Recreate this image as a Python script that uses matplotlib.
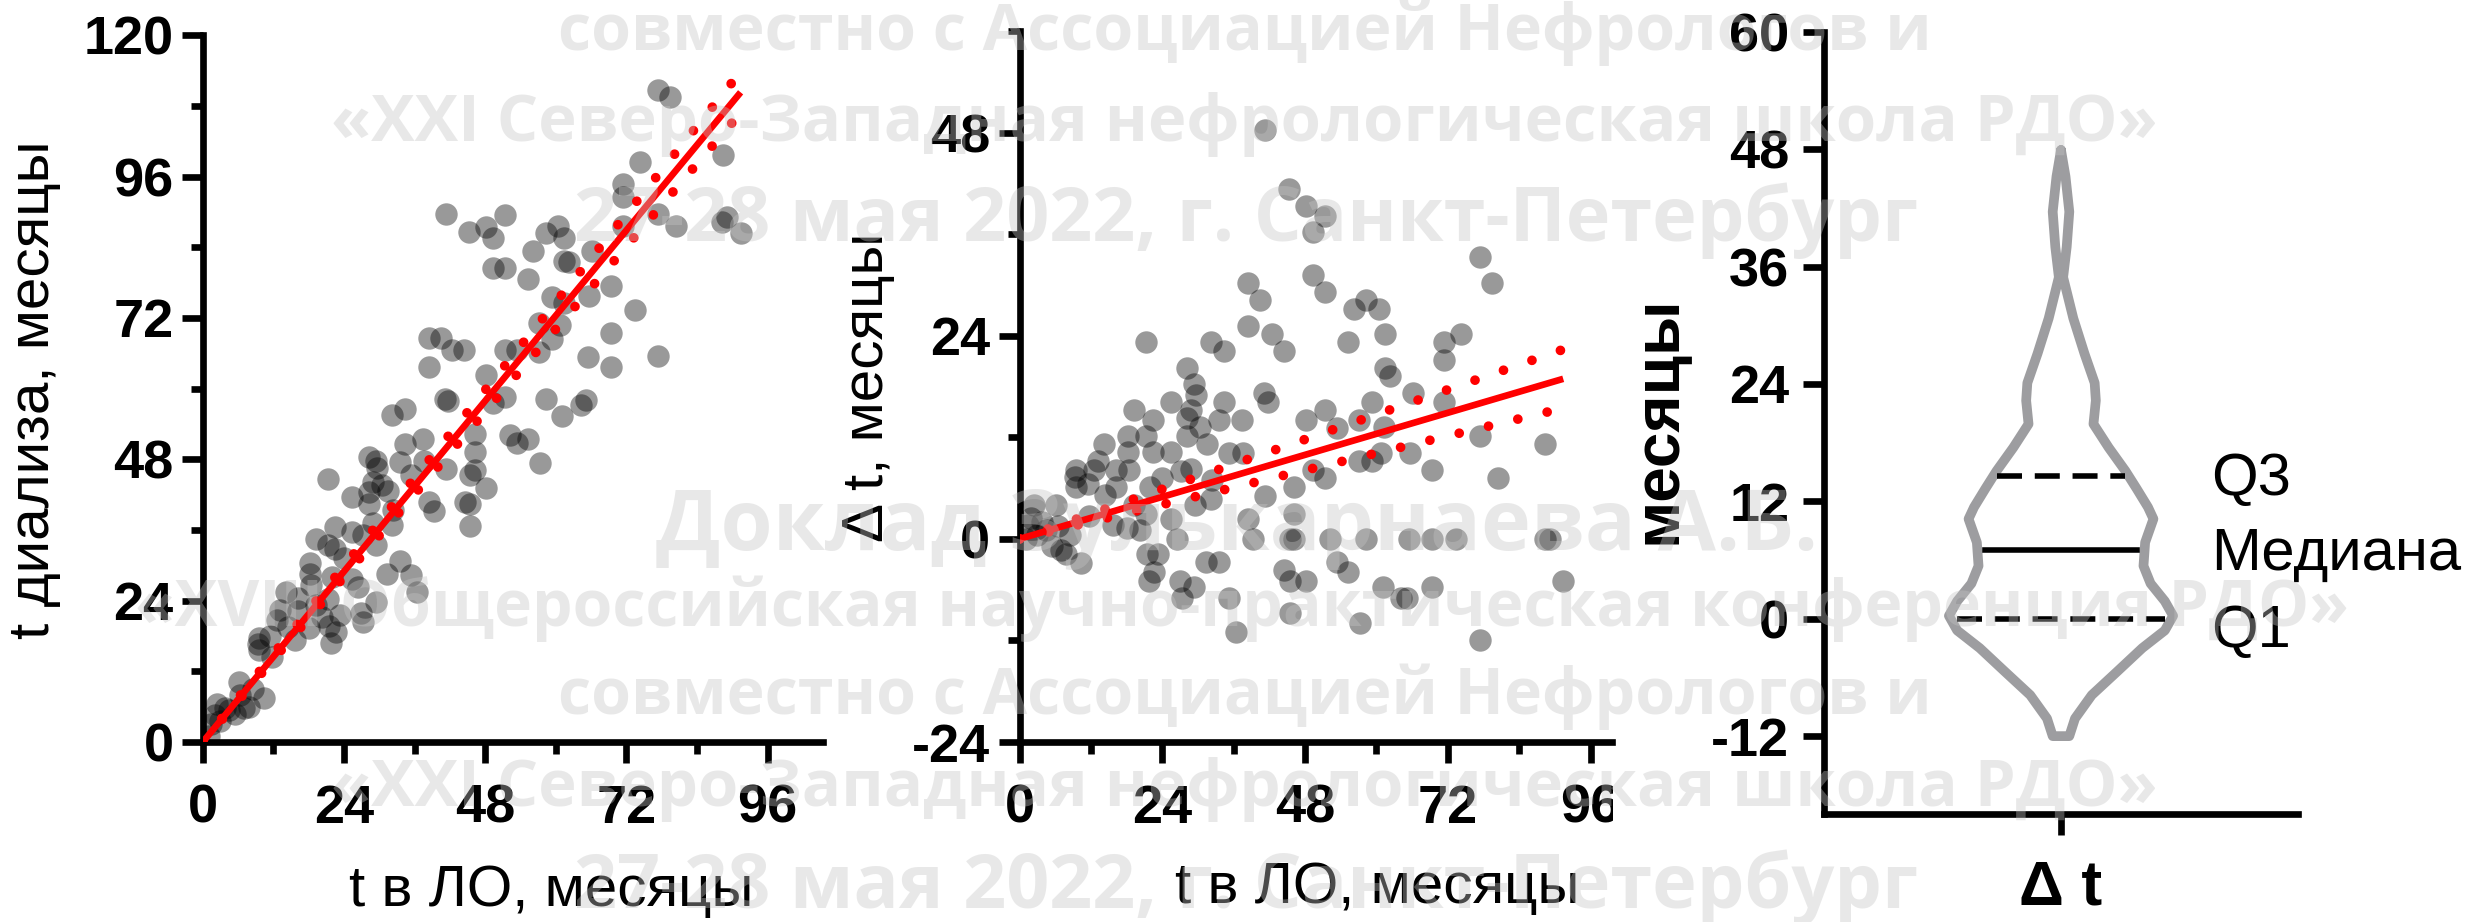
import numpy as np
import matplotlib
matplotlib.use("Agg")
import matplotlib.pyplot as plt
from matplotlib.ticker import MultipleLocator
from matplotlib.patches import Rectangle

plt.rcParams["font.family"] = ["Liberation Sans", "DejaVu Sans"]
plt.rcParams["axes.unicode_minus"] = False

# t в ЛО (months) and Δt = t диализа - t в ЛО (months)
t_lo = np.array([
    41.3, 45.3, 48.2, 51.3, 49.3, 77.4, 49.3, 79.4, 38.4, 51.3,
    40.4, 56.2, 58.3, 60.4, 38.4, 42.4, 21.3, 55.3, 61.4, 71.4,
    74.3, 44.4, 32.2, 34.4, 71.4, 28.2, 61.4, 62.2, 29.4, 41.1,
    41.7, 19.3, 25.4, 34.4, 28.9, 66.2, 71.4, 51.3, 59.3, 22.4,
    28.2, 33.5, 37.4, 48.2, 57.1, 53.4, 61.3, 77.4, 88.4, 14.2,
    18.2, 21.3, 30.4, 28.2, 31.5, 18.2, 22.4, 25.4, 35.3, 37.6,
    57.1, 59.3, 60.7, 65.6, 69.3, 9.5, 12.6, 16.2, 18.4, 49.3,
    51.3, 9.5, 11.5, 14.4, 16.2, 22.0, 24.0, 32.2, 41.3, 46.2,
    80.5, 2.4, 6.2, 19.3, 21.3, 25.4, 29.5, 38.4, 46.2, 1.4,
    3.7, 6.4, 11.7, 15.7, 18.0, 20.2, 1.1, 39.3, 45.4, 46.2,
    52.2, 58.3, 65.4, 69.4, 73.4, 88.3, 89.1, 26.4, 5.5, 7.0,
    10.4, 21.5, 23.3, 31.3, 33.5, 22.6, 21.8, 44.5, 45.4, 48.2,
    53.4, 55.3, 26.9, 29.4, 27.3, 61.1, 64.2, 65.1, 69.3, 91.4,
    35.3, 45.4, 57.3, 36.4, 77.4, 29.6, 32.4, 27.2, 3.0, 4.5,
    7.8, 8.5, 2.0, 9.3, 13.2, 28.9,
])
dt = np.array([
    48.3, 41.3, 39.3, 38.2, 36.3, 33.3, 31.2, 30.2, 30.2, 29.2,
    28.2, 27.2, 28.2, 27.2, 25.2, 24.2, 23.3, 23.3, 24.2, 23.3,
    24.2, 22.2, 23.3, 22.2, 21.2, 20.2, 20.2, 19.3, 18.3, 17.2,
    16.2, 15.2, 16.2, 16.2, 15.2, 17.2, 16.2, 15.2, 16.2, 14.1,
    14.3, 14.1, 14.1, 14.1, 14.1, 13.1, 13.2, 12.2, 11.2, 11.2,
    12.2, 12.2, 13.2, 12.2, 11.2, 10.3, 10.3, 10.3, 10.1, 10.1,
    9.2, 9.2, 10.1, 10.1, 8.2, 8.2, 8.2, 8.2, 8.2, 8.2,
    7.2, 6.1, 6.5, 5.2, 6.1, 6.1, 7.2, 4.7, 5.1, 6.1,
    7.2, 4.0, 4.0, 4.0, 3.0, 2.3, 4.0, 2.3, 3.0, 1.6,
    2.0, 1.5, 2.7, 1.6, 1.3, 1.1, 0.0, 0.0, 0.0, 0.0,
    0.0, 0.0, 0.0, 0.0, 0.0, 0.0, 0.0, 0.0, -0.8, -1.3,
    -2.9, -1.8, -1.8, -2.7, -2.7, -3.9, -5.0, -3.7, -5.0, -5.0,
    -2.7, -3.9, -5.0, -5.7, -7.0, -5.7, -7.0, -7.0, -5.7, -5.0,
    -7.0, -8.7, -9.9, -11.0, -11.9, 17.0, 7.0, 8.0, 0.5, 1.0,
    -1.8, 0.5, 2.5, 7.3, 9.2, 8.3,
])
t_dial = t_lo + dt

# linear fit through the origin (Δt vs t в ЛО) and 95% CI of its slope
fit_slope_dt = 0.207
fit_ci_dt = 0.038

# violin of Δt: outline half-widths
violin_y = [47.9, 45.2, 41.6, 38.0, 34.9, 30.7, 27.1, 24.1, 22.3, 19.9,
            17.5, 15.1, 13.3, 11.4, 10.2, 7.8, 5.4, 3.6, 1.8, 0.3,
            -1.2, -3.0, -5.4, -7.8, -10.2, -12.0]
violin_hw = [0.0, 0.019, 0.035, 0.024, 0.009, 0.052, 0.099, 0.142, 0.147, 0.137,
             0.201, 0.272, 0.319, 0.367, 0.390, 0.355, 0.348, 0.378, 0.438, 0.473,
             0.438, 0.343, 0.237, 0.130, 0.059, 0.035]
q_names = ["Q1", "Медиана", "Q3"]
q_values = [0.0, 7.0, 14.6]
q_hw = [0.437, 0.319, 0.272]
q_text_y = [-1.3, 6.6, 14.2]

watermark = [
    "совместно с Ассоциацией Нефрологов и",
    "«XXI Северо-Западная нефрологическая школа РДО»",
    "27-28 мая 2022, г. Санкт-Петербург",
    "Доклад Зулькарнаева А.Б.",
    "«XVIII Общероссийская научно-практическая конференция РДО»",
    "совместно с Ассоциацией Нефрологов и",
    "«XXI Северо-Западная нефрологическая школа РДО»",
    "27-28 мая 2022, г. Санкт-Петербург",
]
# left / right ends and baseline of each watermark line, pixels
wm_left = [558, 331, 574, 656, 135, 558, 331, 574]
wm_right = [1934, 2160, 1920, 1818, 2348, 1934, 2160, 1920]
wm_baseline = [50, 141, 241, 550, 626, 714, 806, 908]

W, H = 2479, 922
fig = plt.figure(figsize=(W / 100, H / 100), dpi=100)

LW = 4.8
TICK = 39
LABEL = 42


def style(ax):
    for s in ["top", "right"]:
        ax.spines[s].set_visible(False)
    for s in ["left", "bottom"]:
        ax.spines[s].set_linewidth(LW)
    ax.tick_params(which="major", length=15, width=LW)
    ax.tick_params(which="minor", length=8.5, width=LW)
    ax.tick_params(axis="x", pad=15)
    ax.tick_params(axis="y", pad=6)


def bold_ticks(ax):
    for lab in ax.get_xticklabels() + ax.get_yticklabels():
        lab.set_fontweight("bold")
        lab.set_fontsize(TICK)


# panel 1: t диализа vs t в ЛО
ax1 = fig.add_axes([202.8 / W, 1 - 742 / H, 620.2 / W, 706.7 / H])
style(ax1)
ax1.scatter(t_lo, t_dial, s=260, color="black", alpha=0.4, linewidths=0, zorder=2)
xl = np.array([0, t_lo.max()])
ax1.plot(xl, (1 + fit_slope_dt) * xl, color="red", lw=LW, zorder=3, solid_capstyle="butt")
for sgn in (-1, 1):
    ax1.plot(xl, (1 + fit_slope_dt + sgn * fit_ci_dt) * xl, color="red", lw=7,
             linestyle=(0, (0.001, 3.1)), dash_capstyle="round", zorder=3)
ax1.set_xlim(0, 105.4)
ax1.set_ylim(0, 120)
ax1.set_xticks([0, 24, 48, 72, 96])
ax1.set_yticks([0, 24, 48, 72, 96, 120])
ax1.xaxis.set_minor_locator(MultipleLocator(12))
ax1.yaxis.set_minor_locator(MultipleLocator(12))
bold_ticks(ax1)
ax1.set_xlabel("t в ЛО, месяцы", fontsize=LABEL)
ax1.xaxis.set_label_coords(0.561, -0.211)
ax1.xaxis.label.set_va("center")
ax1.set_ylabel("t диализа, месяцы", fontsize=LABEL)
ax1.yaxis.set_label_coords(-0.272, 0.498)
ax1.yaxis.label.set_va("center")

# panel 2: Δt vs t в ЛО
ax2 = fig.add_axes([1019.5 / W, 1 - 742 / H, 592.5 / W, 710.8 / H])
style(ax2)
ax2.scatter(t_lo, dt, s=260, color="black", alpha=0.4, linewidths=0, zorder=2)
ax2.plot(xl, fit_slope_dt * xl, color="red", lw=LW, zorder=3, solid_capstyle="butt")
for sgn in (-1, 1):
    ax2.plot(xl, (fit_slope_dt + sgn * fit_ci_dt) * xl, color="red", lw=7,
             linestyle=(0, (0.001, 3.1)), dash_capstyle="round", zorder=3)
ax2.set_xlim(0, 99.6)
ax2.set_ylim(-24, 60)
ax2.set_xticks([0, 24, 48, 72, 96])
ax2.set_yticks([-24, 0, 24, 48])
ax2.xaxis.set_minor_locator(MultipleLocator(12))
ax2.yaxis.set_minor_locator(MultipleLocator(12))
bold_ticks(ax2)
ax2.set_xlabel("t в ЛО, месяцы", fontsize=LABEL)
ax2.xaxis.set_label_coords(0.603, -0.205)
ax2.xaxis.label.set_va("center")
ax2.set_ylabel("Δ t, месяцы", fontsize=LABEL)
ax2.yaxis.set_label_coords(-0.256, 0.499)
ax2.yaxis.label.set_va("center")

# the source panel is cropped right after the axis end, cutting the "96" label
fig.patches.append(Rectangle((1613 / W, 0), 40 / W, (922 - 752) / H,
                             transform=fig.transFigure, facecolor="white",
                             edgecolor="none", zorder=1))

# panel 3: violin of Δt
ax3 = fig.add_axes([1824 / W, 1 - 814.4 / H, 474 / W, 782.7 / H])
style(ax3)
hw = np.array(violin_hw)
vy = np.array(violin_y)
ax3.plot(np.concatenate([hw, -hw[::-1]]), np.concatenate([vy, vy[::-1]]),
         color="#9d9da0", lw=7, solid_joinstyle="round", solid_capstyle="round", zorder=2)
for name, v, w, ty in zip(q_names, q_values, q_hw, q_text_y):
    ls = "-" if name == "Медиана" else (0, (4.5, 2.3))
    ax3.plot([-w, w], [v, v], color="black", lw=4, linestyle=ls, zorder=3)
    ax3.text(0.633, ty, name, fontsize=43, va="center", ha="left", clip_on=False)
ax3.set_xlim(-1, 1)
ax3.set_ylim(-20, 60)
ax3.set_yticks([-12, 0, 12, 24, 36, 48, 60])
ax3.set_xticks([0])
ax3.set_xticklabels(["Δ t"])
bold_ticks(ax3)
ax3.tick_params(axis="x", pad=17)
ax3.get_xticklabels()[0].set_fontsize(45)
ax3.tick_params(axis="y", pad=10)
ax3.set_ylabel("месяцы", fontsize=46, fontweight="bold")
ax3.yaxis.set_label_coords(-0.348, 0.504)
ax3.yaxis.label.set_va("center")

# conference watermark over the figure, each line sized to its width in the source
renderer = fig.canvas.get_renderer()
for line, x0, x1, yb in zip(watermark, wm_left, wm_right, wm_baseline):
    t = fig.text(x0 / W, 1 - yb / H, line, fontsize=50, family="Open Sans",
                 fontweight="bold", color="#c4c4c4", alpha=0.38, ha="left",
                 va="baseline", zorder=10)
    width = t.get_window_extent(renderer).width
    t.set_fontsize(50 * (x1 - x0) / width)

fig.savefig("out.png", dpi=100)
